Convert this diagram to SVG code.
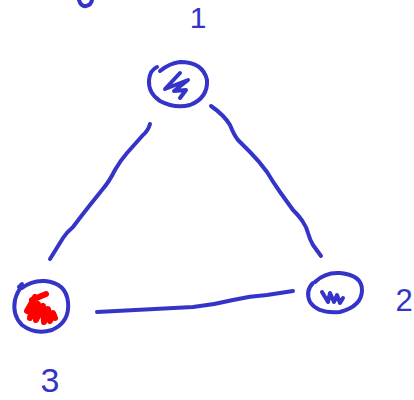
<svg xmlns="http://www.w3.org/2000/svg" width="414" height="400" viewBox="0 0 414 400">
<style>
.ink{fill:none;stroke:#3434c8;stroke-width:4;stroke-linecap:round;stroke-linejoin:round}
.red{fill:none;stroke:#ff0000;stroke-width:6;stroke-linecap:round;stroke-linejoin:round}
.lbl{font-family:"Liberation Sans",Arial,sans-serif;fill:#3434c8}
</style>
<rect width="414" height="400" fill="#ffffff"/>
<path class="ink" d="M79,0 Q81,7 86,6 Q91,5 92,0"/>
<g id="connectors">
<path class="ink" d="M150,124 Q148,131 143,135 L127,153 Q120,161 115,170 Q109,182 102,190 L90,205 Q82,215 73,227 Q67,232 63,238 L50,259"/>
<path class="ink" d="M211,106 Q224,115 230,125 Q234,135 238,140 L250,152 Q259,161 267,172 Q273,182 280,192 L293,210 Q300,217 303,222 Q307,228 308,233 Q310,240 313,245 L321,256"/>
<path class="ink" d="M97,312 L193,307 Q213,305 233,300 Q250,296 267,295 L293,291"/>
</g>
<g id="node1">
<path class="ink" d="M160,71 Q170,63 180,62 Q203,62 207,80 Q208,98 190,105 Q175,109 160,101 Q148,93 149,80 Q150,70 157,67"/>
<path class="ink" d="M180,73 L165,89 L188,80 L174,91 L186,90 L180,98"/>
</g>
<g id="node2">
<path class="ink" d="M315,282 Q325,272 340,273 Q362,275 362,290 Q362,306 340,312 Q318,314 310,302 Q305,291 313,283"/>
<path class="ink" d="M322,292 L328,302 L330,293 L334,302 L337,295 L340,303 L343,298"/>
</g>
<g id="node3">
<path class="ink" d="M22,288 Q32,280 45,281 Q66,283 68,302 Q70,322 52,330 Q35,335 22,325 Q12,315 15,300 Q17,292 22,286"/>
<path class="ink" d="M19,287 L22,284"/>
<path class="red" d="M35,297 L27,311 L33,303 L30,318 L38,304 L36,320 L43,306 L44,322 L48,309 L50,321 L53,313 L55,318"/>
<path class="red" d="M32,300 L46,294"/>
</g>
<text class="lbl" x="198" y="28" font-size="30" text-anchor="middle">1</text>
<text class="lbl" x="404" y="311" font-size="31" text-anchor="middle">2</text>
<text class="lbl" x="50" y="392" font-size="34" text-anchor="middle">3</text>
</svg>
